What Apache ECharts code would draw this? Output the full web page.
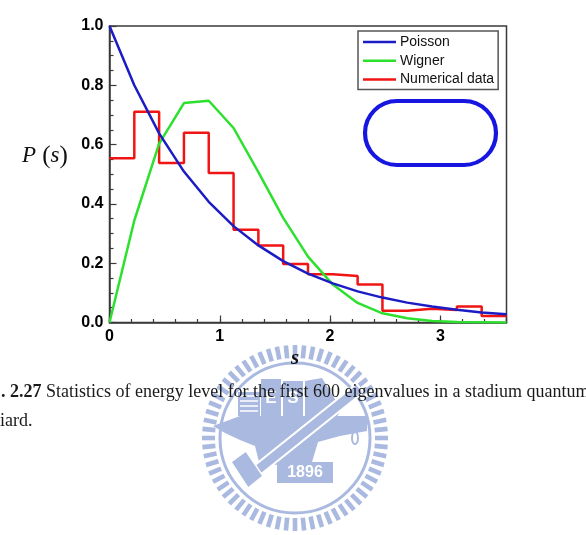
<!DOCTYPE html>
<html>
<head>
<meta charset="utf-8">
<script src="https://cdn.jsdelivr.net/npm/echarts@6/dist/echarts.min.js"></script>
<style>
  html, body { margin: 0; padding: 0; background: #fff; }
  #chart { width: 586px; height: 535px; }
</style>
</head>
<body>
<div id="chart"></div>
<script>
// spacing grid s (bin edges, width 0.225)
const sGrid = [0, 0.225, 0.45, 0.675, 0.9, 1.125, 1.35, 1.575, 1.8, 2.025, 2.25, 2.475, 2.7, 2.925, 3.15, 3.375, 3.6]
// curves at the grid points
const poisson = [1.0, 0.80, 0.638, 0.509, 0.407, 0.325, 0.26, 0.207, 0.165, 0.132, 0.105, 0.084, 0.067, 0.054, 0.043, 0.034, 0.028]
const wigner = [0, 0.344, 0.603, 0.740, 0.748, 0.656, 0.507, 0.353, 0.222, 0.128, 0.066, 0.031, 0.014, 0.005, 0.002, 0.001, 0]
// histogram heights, one per bin
const numerical = [0.554, 0.711, 0.538, 0.640, 0.504, 0.313, 0.260, 0.197, 0.163, 0.157, 0.128, 0.040, 0.046, 0.042, 0.054, 0.022]
const xTicks = ['0', '1', '2', '3']
const yTicks = ['0.0', '0.2', '0.4', '0.6', '0.8', '1.0']

const chart = echarts.init(document.getElementById('chart'))

const pairs = (ys) => ys.map((y, i) => [sGrid[i], y])
const stepData = numerical.map((y, i) => [sGrid[i], y])
stepData.push([sGrid[numerical.length], numerical[numerical.length - 1]])

const axisColor = '#3a3a3a'
const labelFont = { fontFamily: 'Liberation Sans', fontWeight: 'bold', fontSize: 16, color: '#000' }
const lineIcon = 'path://M0,0L40,0L40,3L0,3Z'

// watermark logo (decoration)
const wm = '#aab9e0'
const cx = 295, cy = 438
const logo = []
for (let k = 0; k < 64; k++) {
  logo.push({
    type: 'rect', x: cx, y: cy, rotation: (k / 64) * Math.PI * 2,
    shape: { x: -2.3, y: -93, width: 4.6, height: 13 },
    style: { fill: wm }, z: 0, silent: true
  })
}
logo.push(
  { type: 'circle', shape: { cx, cy, r: 75 }, style: { fill: null, stroke: wm, lineWidth: 3 }, z: 0, silent: true },
  { type: 'rect', shape: { x: 238, y: 392, width: 22, height: 24 }, style: { fill: wm }, z: 0, silent: true },
  { type: 'rect', shape: { x: 261, y: 379, width: 20, height: 37 }, style: { fill: wm }, z: 0, silent: true },
  { type: 'rect', shape: { x: 283, y: 381, width: 20, height: 35 }, style: { fill: wm }, z: 0, silent: true },
  { type: 'polygon', shape: { points: [[305, 381], [322, 378], [341, 409], [332, 427], [305, 416]] }, style: { fill: wm }, z: 0, silent: true },
  { type: 'polygon', shape: { points: [[213, 426], [240, 416], [367, 416], [367, 431], [340, 436], [318, 442], [312, 462], [260, 466], [255, 446], [240, 440], [225, 433]] }, style: { fill: wm }, z: 0, silent: true },
  { type: 'polygon', shape: { points: [[248.4, 484.3], [241.6, 475.7], [356.6, 383.7], [363.4, 392.3]] }, style: { fill: wm, stroke: '#fff', lineWidth: 2 }, z: 0, silent: true },
  { type: 'polygon', shape: { points: [[231, 462], [246, 451], [263, 476], [248, 488]] }, style: { fill: wm, stroke: '#fff', lineWidth: 1.5 }, z: 0, silent: true },
  { type: 'rect', shape: { x: 277, y: 462, width: 56, height: 21 }, style: { fill: wm }, z: 0, silent: true },
  { type: 'text', x: 305, y: 473, style: { text: '1896', fill: '#fff', font: 'bold 16px Liberation Sans', align: 'center', verticalAlign: 'middle' }, z: 0, silent: true },
  { type: 'text', x: 271, y: 398, style: { text: 'E', fill: '#fff', font: 'bold 17px Liberation Sans', align: 'center', verticalAlign: 'middle' }, z: 0, silent: true },
  { type: 'text', x: 293, y: 398, style: { text: 'S', fill: '#fff', font: 'bold 17px Liberation Sans', align: 'center', verticalAlign: 'middle' }, z: 0, silent: true },
  { type: 'ellipse', shape: { cx: 355, cy: 438, rx: 3, ry: 6 }, style: { fill: null, stroke: wm, lineWidth: 2 }, z: 0, silent: true }
)
for (let k = 0; k < 4; k++) {
  logo.push({ type: 'line', shape: { x1: 240, y1: 396 + k * 5, x2: 258, y2: 396 + k * 5 }, style: { stroke: '#fff', lineWidth: 1.5 }, z: 0, silent: true })
}

chart.setOption({
  animation: false,
  backgroundColor: '#fff',
  grid: {
    left: 109.5, top: 26, right: 79.5, bottom: 212.5,
    outerBoundsMode: 'none',
    show: true, borderColor: axisColor, borderWidth: 1.5, backgroundColor: 'transparent'
  },
  legend: {
    orient: 'vertical', left: 358, top: 31,
    data: [
      { name: 'Poisson', icon: lineIcon },
      { name: 'Wigner', icon: lineIcon },
      { name: 'Numerical data', icon: lineIcon }
    ],
    borderColor: '#555', borderWidth: 1.5, padding: [4, 4, 3, 5],
    itemWidth: 33, itemHeight: 13, itemGap: 4.8,
    textStyle: { fontFamily: 'Liberation Sans', fontSize: 14, color: '#111', padding: [0, 0, 0, -1] },
    backgroundColor: '#fff'
  },
  xAxis: [
    {
      type: 'value', min: 0, max: 3.6, interval: 0.2,
      axisLine: { lineStyle: { color: axisColor, width: 1.5 } },
      axisTick: { inside: true, length: 3.5, lineStyle: { color: axisColor, width: 1.2 } },
      splitLine: { show: false },
      axisLabel: {
        ...labelFont, margin: 6,
        formatter: (v) => {
          const r = Math.round(v)
          return Math.abs(v - r) < 1e-6 && r < xTicks.length ? xTicks[r] : ''
        }
      }
    },
    {
      type: 'value', min: 0, max: 3.6, interval: 1, position: 'bottom',
      axisLine: { show: false },
      axisTick: { inside: true, length: 7, lineStyle: { color: axisColor, width: 1.2 } },
      splitLine: { show: false },
      axisLabel: { show: false }
    }
  ],
  yAxis: {
    type: 'value', min: 0, max: 1, interval: 0.2,
    axisLine: { show: true, lineStyle: { color: axisColor, width: 1.5 } },
    axisTick: { show: true, inside: true, length: 7, lineStyle: { color: axisColor, width: 1.2 } },
    minorTick: { show: true, splitNumber: 4, length: 4, lineStyle: { color: axisColor, width: 1.2 } },
    splitLine: { show: false },
    axisLabel: { ...labelFont, margin: 6, formatter: (v) => yTicks[Math.round(v * 5)] }
  },
  series: [
    {
      name: 'Numerical data', type: 'line', step: 'end', data: stepData,
      symbol: 'none', lineStyle: { color: '#f01414', width: 2.5 }, itemStyle: { color: '#f01414' }, z: 3
    },
    {
      name: 'Wigner', type: 'line', data: pairs(wigner),
      symbol: 'none', lineStyle: { color: '#2ee02e', width: 2.5 }, itemStyle: { color: '#2ee02e' }, z: 4
    },
    {
      name: 'Poisson', type: 'line', data: pairs(poisson),
      symbol: 'none', lineStyle: { color: '#1c1cc4', width: 2.5 }, itemStyle: { color: '#1c1cc4' }, z: 5
    }
  ],
  graphic: [
    ...logo,
    // stadium billiard outline
    {
      type: 'rect', shape: { x: 365, y: 101, width: 131, height: 64, r: 32 },
      style: { fill: null, stroke: '#1616e0', lineWidth: 4.2 }, z: 10
    },
    // axis titles
    {
      type: 'text', x: 295, y: 359, z: 10,
      style: { text: 's', font: 'italic bold 21px Liberation Serif', fill: '#111', align: 'center', verticalAlign: 'middle' }
    },
    {
      type: 'text', x: 22, y: 156, z: 10,
      style: {
        text: '{i|P}{n| (}{i|s}{n|)}', align: 'left', verticalAlign: 'middle',
        rich: {
          i: { fontFamily: 'Liberation Serif', fontStyle: 'italic', fontSize: 23, fill: '#111' },
          n: { fontFamily: 'Liberation Serif', fontSize: 25, fill: '#111' }
        }
      }
    },
    // figure caption (cut by the page edge in the original)
    {
      type: 'text', x: 1, y: 392, z: 10,
      style: {
        text: '{b|. 2.27} Statistics of energy level for the first 600 eigenvalues in a stadium quantum billiard.',
        verticalAlign: 'middle', font: '18px Liberation Serif', fill: '#1a1a1a',
        rich: { b: { fontFamily: 'Liberation Serif', fontWeight: 'bold', fontSize: 18, fill: '#1a1a1a' } }
      }
    },
    {
      type: 'text', x: 0, y: 421, z: 10,
      style: { text: 'iard.', verticalAlign: 'middle', font: '18px Liberation Serif', fill: '#1a1a1a' }
    }
  ]
})

window.addEventListener('resize', () => chart.resize())
</script>
</body>
</html>
